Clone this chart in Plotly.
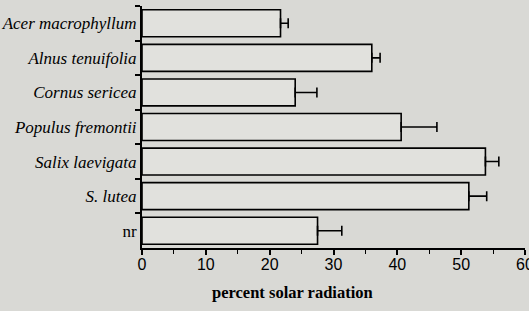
import plotly.graph_objects as go

species = ["Acer macrophyllum", "Alnus tenuifolia", "Cornus sericea",
           "Populus fremontii", "Salix laevigata", "S. lutea", "nr"]
italic = [True, True, True, True, True, True, False]
values = [21.7, 36.0, 24.0, 40.6, 53.8, 51.2, 27.5]
errors = [1.2, 1.3, 3.4, 5.6, 2.1, 2.8, 3.8]
xticks = [0, 10, 20, 30, 40, 50, 60]

labels = [f"<i>{s}</i>" if it else s for s, it in zip(species, italic)]

serif = "Liberation Serif, Times New Roman, serif"
bg = "#d9d9d5"
fig = go.Figure()
fig.add_trace(go.Bar(
    y=labels, x=values, orientation="h", width=0.78,
    marker=dict(color="#e1e1dd", line=dict(color="black", width=1.6)),
    error_x=dict(type="data", array=errors, arrayminus=[0]*len(errors),
                 symmetric=False, color="black", thickness=1.6, width=5),
))

fig.update_layout(
    width=529, height=311,
    margin=dict(l=142, r=4, t=6, b=63, autoexpand=False),
    paper_bgcolor=bg, plot_bgcolor=bg,
    showlegend=False,
    font=dict(family=serif, color="black"),
    xaxis=dict(range=[0, 60], tickvals=xticks, ticks="outside", ticklen=5,
               tickwidth=1.6, tickcolor="black", showline=True, linewidth=2,
               linecolor="black", showgrid=False, zeroline=False,
               ticklabeloverflow="allow", automargin=False, ticklabelstandoff=-4,
               tickfont=dict(family="Liberation Sans, Arial, sans-serif", size=16, color="black"),
               minor=dict(dtick=5, ticks="outside", ticklen=4, tickwidth=1.4,
                          tickcolor="black", showgrid=False)),
    yaxis=dict(categoryorder="array", categoryarray=labels, autorange="reversed",
               tickson="boundaries", ticks="outside", ticklen=5, tickwidth=1.6,
               tickcolor="black", showline=True, linewidth=2, linecolor="black",
               showgrid=False, zeroline=False, automargin=False,
               tickfont=dict(family=serif, size=17, color="black")),
    annotations=[dict(text="<b>percent solar radiation</b>", xref="paper", yref="paper",
                      x=0.392, y=0, xanchor="center", yanchor="top", yshift=-33,
                      showarrow=False,
                      font=dict(family=serif, size=16.5, color="black"))],
)

fig.write_html("out.html", config={"displayModeBar": False},
               post_script="document.body.style.margin='0';document.body.style.background='%s';" % bg)
